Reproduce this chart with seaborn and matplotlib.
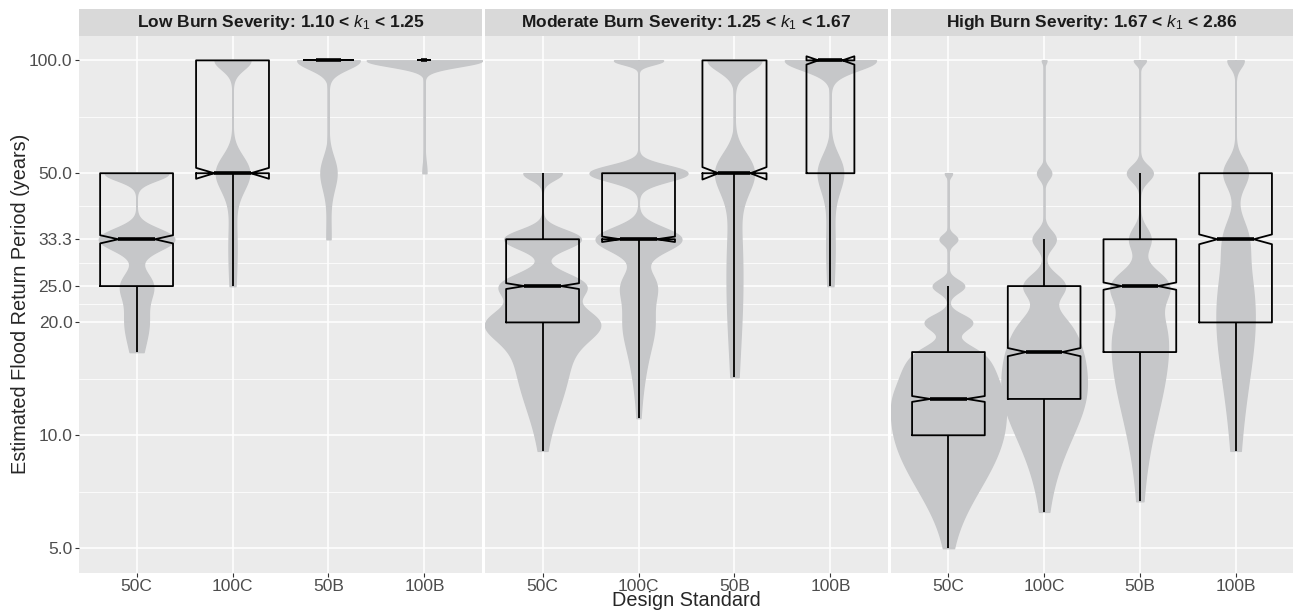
import numpy as np
import pandas as pd
import seaborn as sns
import matplotlib.pyplot as plt
from matplotlib.patches import Rectangle
from matplotlib.ticker import FixedLocator, FixedFormatter, NullFormatter

designs = ["50C", "100C", "50B", "100B"]
panels = ["Low", "Moderate", "High"]
strip_titles = [
    "Low Burn Severity: 1.10 < $k_1$ < 1.25",
    "Moderate Burn Severity: 1.25 < $k_1$ < 1.67",
    "High Burn Severity: 1.67 < $k_1$ < 2.86",
]
y_breaks = [5, 10, 20, 25, 33.33, 50, 100]
y_labels = ["5.0", "10.0", "20.0", "25.0", "33.3", "50.0", "100.0"]

# estimated return period (years) and how many estimates fall on it
low_50c_t = [50, 33.33, 25, 20, 16.67]
low_50c_n = [704, 836, 352, 220, 88]
low_100c_t = [100, 50, 33.33, 25]
low_100c_n = [990, 924, 176, 110]
low_50b_t = [100, 50, 33.33]
low_50b_n = [780, 200, 50]
low_100b_t = [100, 50]
low_100b_n = [58, 2]

mod_50c_t = [50, 33.33, 25, 20, 18.18, 16.67, 15.38, 14.29, 13.33, 12.5, 11.76, 11.11, 10.53, 10, 9.52, 9.09]
mod_50c_n = [220, 440, 484, 550, 99, 99, 77, 66, 55, 40, 26, 20, 13, 7, 3, 1]
mod_100c_t = [100, 50, 33.33, 25, 20, 18.18, 16.67, 15.38, 14.29, 13.33, 12.5, 11.76, 11.11]
mod_100c_n = [352, 704, 616, 242, 154, 40, 40, 20, 14, 9, 5, 3, 2]
mod_50b_t = [100, 50, 33.33, 25, 20, 16.67, 14.29]
mod_50b_n = [782, 561, 136, 102, 68, 34, 17]
mod_100b_t = [100, 50, 33.33, 25]
mod_100b_n = [684, 190, 48, 28]

high_50c_t = [50, 33.33, 25, 20, 18.18, 16.67, 15.38, 14.29, 13.33, 12.5, 11.76, 11.11, 10.53, 10,
              9.52, 9.09, 8.70, 8.33, 8.0, 7.69, 7.41, 7.14, 6.90, 6.67, 6.45, 6.25, 6.06, 5.88,
              5.71, 5.56, 5.41, 5.26, 5.13, 5.0]
high_50c_n = [28, 70, 125, 186, 17, 168, 175, 165, 153, 158, 130, 118, 105, 95,
              82, 70, 62, 53, 45, 38, 32, 27, 22, 18, 14, 11, 9, 7,
              5, 4, 3, 2, 1, 1]
high_100c_t = [100, 50, 33.33, 25, 20, 18.18, 16.67, 15.38, 14.29, 13.33, 12.5, 11.76, 11.11, 10.53,
               10, 9.52, 9.09, 8.70, 8.33, 8.0, 7.69, 7.41, 7.14, 6.90, 6.67, 6.45, 6.25]
high_100c_n = [34, 105, 172, 306, 210, 172, 195, 166, 143, 124, 134, 99, 78, 63,
               50, 38, 29, 22, 17, 13, 9, 7, 4, 3, 2, 1, 1]
high_50b_t = [100, 50, 33.33, 25, 20, 18.18, 16.67, 15.38, 14.29, 13.33, 12.5, 11.76, 11.11,
              10.53, 10, 9.52, 9.09, 8.70, 8.33, 8.0, 7.69, 7.41, 7.14, 6.90, 6.67]
high_50b_n = [118, 256, 213, 551, 256, 138, 140, 112, 92, 74, 60, 48, 37,
              28, 21, 16, 12, 9, 6, 5, 3, 2, 1, 1, 1]
high_100b_t = [100, 50, 33.33, 25, 20, 18.18, 16.67, 15.38, 14.29, 13.33, 12.5, 11.76, 11.11,
               10.53, 10, 9.52, 9.09]
high_100b_n = [291, 438, 418, 378, 229, 113, 90, 70, 52, 38, 28, 20, 14,
               10, 7, 4, 1]

groups = [
    ("Low", "50C", low_50c_t, low_50c_n), ("Low", "100C", low_100c_t, low_100c_n),
    ("Low", "50B", low_50b_t, low_50b_n), ("Low", "100B", low_100b_t, low_100b_n),
    ("Moderate", "50C", mod_50c_t, mod_50c_n), ("Moderate", "100C", mod_100c_t, mod_100c_n),
    ("Moderate", "50B", mod_50b_t, mod_50b_n), ("Moderate", "100B", mod_100b_t, mod_100b_n),
    ("High", "50C", high_50c_t, high_50c_n), ("High", "100C", high_100c_t, high_100c_n),
    ("High", "50B", high_50b_t, high_50b_n), ("High", "100B", high_100b_t, high_100b_n),
]
frames = []
for panel, design, t, n in groups:
    frames.append(pd.DataFrame({"panel": panel, "design": design, "period": np.repeat(t, n)}))
df = pd.concat(frames, ignore_index=True)
n_max = df.groupby(["panel", "design"]).size().max()


def nrd0(kde):
    # R's default bandwidth, as scipy factor
    x = kde.dataset[0]
    sd = x.std(ddof=1)
    q75, q25 = np.percentile(x, [75, 25])
    lo = min(sd, (q75 - q25) / 1.34)
    if lo <= 0:
        lo = sd
    return 0.9 * lo * len(x) ** -0.2 / sd


sns.set_theme(style="ticks")
plt.rcParams["font.family"] = ["Liberation Sans", "DejaVu Sans"]
plt.rcParams["mathtext.fontset"] = "custom"
plt.rcParams["mathtext.rm"] = "Liberation Sans"
plt.rcParams["mathtext.it"] = "Liberation Sans:italic"
plt.rcParams["mathtext.bf"] = "Liberation Sans:bold"

VIOLIN = "#C6C7C9"
W, H = 1293, 615
fig = plt.figure(figsize=(W / 100, H / 100), dpi=100)
lefts = [79, 485, 891]
widths = [403, 403, 402]
top_px, bot_px = 36, 572.5
lo_lim = 10 ** (np.log10(5) - 0.065)
hi_lim = 10 ** (2 + 0.065)
minor = [np.sqrt(a * b) for a, b in zip(y_breaks[:-1], y_breaks[1:])]

for i, panel in enumerate(panels):
    ax = fig.add_axes([lefts[i] / W, 1 - bot_px / H, widths[i] / W, (bot_px - top_px) / H])
    ax.set_facecolor("#EBEBEB")
    sub = df[df["panel"] == panel]
    sns.violinplot(data=sub, x="design", y="period", order=designs, color=VIOLIN,
                   linecolor=VIOLIN, linewidth=1.1, inner=None, cut=0, width=1.2,
                   density_norm="area", bw_method=nrd0, gridsize=1500, saturation=1, ax=ax)
    # the violin outline collapses to a hairline where the density is ~0
    spans = sub.groupby("design")["period"].agg(["min", "max"]).reindex(designs)
    ax.vlines(np.arange(len(designs)), spans["min"], spans["max"], color=VIOLIN,
              linewidth=1.1, zorder=1.1)
    sizes = sub.groupby("design").size()
    for d in designs:
        sns.boxplot(data=sub[sub["design"] == d], x="design", y="period", order=designs,
                    width=0.76 * np.sqrt(sizes[d] / n_max), notch=True, showfliers=False,
                    showcaps=False, fill=False, color="black", linewidth=1.3,
                    medianprops=dict(color="black", linewidth=2.6), ax=ax)
    ax.set_yscale("log")
    ax.set_ylim(lo_lim, hi_lim)
    ax.set_xlim(-0.6, 3.6)
    ax.yaxis.set_major_locator(FixedLocator(y_breaks))
    ax.yaxis.set_major_formatter(FixedFormatter(y_labels))
    ax.yaxis.set_minor_locator(FixedLocator(minor))
    ax.yaxis.set_minor_formatter(NullFormatter())
    ax.set_axisbelow(True)
    ax.grid(which="major", color="white", linewidth=1.1)
    ax.grid(which="minor", axis="y", color="white", linewidth=0.55)
    for s in ax.spines.values():
        s.set_visible(False)
    ax.tick_params(which="major", length=3.2, width=0.8, color="#333333",
                   labelsize=12.5, labelcolor="#4D4D4D", pad=1.5)
    ax.tick_params(which="minor", length=0)
    if i > 0:
        ax.tick_params(axis="y", left=False, labelleft=False)
    ax.set_xlabel("")
    ax.set_ylabel("")
    strip_h = 27 / (bot_px - top_px)
    ax.add_patch(Rectangle((0, 1), 1, strip_h, transform=ax.transAxes, facecolor="#D9D9D9",
                           edgecolor="none", clip_on=False))
    ax.text(0.5, 1 + strip_h / 2, strip_titles[i], transform=ax.transAxes, ha="center",
            va="center", fontsize=12.5, fontweight="bold", color="#1A1A1A")

fig.text(686 / W, 1 - 601 / H, "Design Standard", ha="center", va="center", fontsize=14.3)
fig.text(21 / W, 1 - 304 / H, "Estimated Flood Return Period (years)", ha="center",
         va="center", rotation=90, fontsize=14.3)

fig.savefig("out.png", dpi=100)
